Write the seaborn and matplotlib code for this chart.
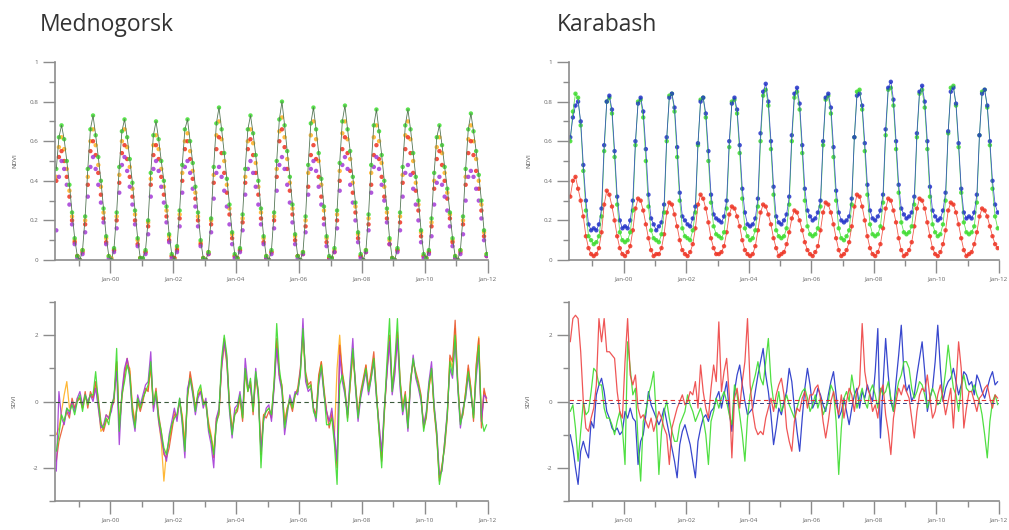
import numpy as np
import pandas as pd
import matplotlib
matplotlib.use("Agg")
import matplotlib.pyplot as plt
import seaborn as sns
from matplotlib.ticker import FixedLocator

sns.set_style("ticks")
plt.rcParams['font.family'] = ['Open Sans', 'DejaVu Sans']

# ---------------- time axis: monthly, Apr 1998 .. Dec 2011 ----------------
months = pd.date_range("1998-04-01", "2011-12-01", freq="MS")
t = np.asarray(months.year + (months.month - 1) / 12 + 1 / 24, dtype=float)

xtick_years = [2000, 2002, 2004, 2006, 2008, 2010, 2012]
xtick_labels = ["Jan-00", "Jan-02", "Jan-04", "Jan-06", "Jan-08", "Jan-10", "Jan-12"]
xminor_years = [1999, 2001, 2003, 2005, 2007, 2009, 2011]

# ---------------- Mednogorsk NDVI ----------------
med_green = [
    0.46, 0.62, 0.68, 0.61, 0.50, 0.38, 0.24, 0.11, 0.02,
    0.00, 0.05, 0.22, 0.46, 0.66, 0.73, 0.63, 0.52, 0.40, 0.26, 0.12, 0.02,
    0.00, 0.06, 0.24, 0.47, 0.65, 0.71, 0.62, 0.51, 0.39, 0.25, 0.11, 0.01,
    0.01, 0.05, 0.20, 0.44, 0.63, 0.70, 0.61, 0.50, 0.40, 0.27, 0.13, 0.03,
    0.00, 0.07, 0.25, 0.48, 0.66, 0.71, 0.60, 0.49, 0.37, 0.24, 0.10, 0.01,
    0.00, 0.04, 0.21, 0.47, 0.69, 0.77, 0.66, 0.54, 0.41, 0.28, 0.14, 0.03,
    0.01, 0.06, 0.23, 0.46, 0.66, 0.73, 0.64, 0.53, 0.40, 0.26, 0.12, 0.02,
    0.00, 0.05, 0.24, 0.50, 0.71, 0.80, 0.68, 0.55, 0.42, 0.28, 0.13, 0.02,
    0.00, 0.04, 0.22, 0.48, 0.69, 0.77, 0.66, 0.54, 0.41, 0.27, 0.12, 0.02,
    0.01, 0.06, 0.25, 0.49, 0.70, 0.78, 0.66, 0.55, 0.42, 0.29, 0.14, 0.03,
    0.00, 0.05, 0.23, 0.48, 0.68, 0.76, 0.65, 0.53, 0.40, 0.26, 0.11, 0.01,
    0.00, 0.06, 0.24, 0.47, 0.68, 0.76, 0.66, 0.54, 0.42, 0.30, 0.15, 0.03,
    0.01, 0.05, 0.21, 0.44, 0.62, 0.68, 0.58, 0.47, 0.36, 0.24, 0.11, 0.02,
    0.00, 0.05, 0.22, 0.46, 0.66, 0.74, 0.65, 0.55, 0.43, 0.30, 0.15, 0.03,
]
med_orange = [
    0.42, 0.57, 0.62, 0.56, 0.46, 0.35, 0.22, 0.10, 0.02,
    0.00, 0.05, 0.20, 0.42, 0.60, 0.66, 0.58, 0.48, 0.37, 0.24, 0.11, 0.02,
    0.01, 0.05, 0.22, 0.43, 0.60, 0.66, 0.57, 0.47, 0.36, 0.23, 0.10, 0.01,
    0.00, 0.04, 0.19, 0.41, 0.58, 0.63, 0.56, 0.46, 0.37, 0.25, 0.12, 0.02,
    0.01, 0.06, 0.23, 0.44, 0.60, 0.64, 0.55, 0.45, 0.34, 0.22, 0.09, 0.01,
    0.00, 0.04, 0.20, 0.43, 0.63, 0.70, 0.61, 0.50, 0.38, 0.26, 0.13, 0.02,
    0.01, 0.05, 0.21, 0.42, 0.60, 0.66, 0.59, 0.49, 0.37, 0.24, 0.11, 0.02,
    0.00, 0.04, 0.22, 0.46, 0.65, 0.72, 0.62, 0.51, 0.39, 0.26, 0.12, 0.02,
    0.00, 0.04, 0.20, 0.44, 0.63, 0.70, 0.61, 0.50, 0.38, 0.25, 0.11, 0.01,
    0.01, 0.05, 0.23, 0.45, 0.64, 0.70, 0.61, 0.51, 0.39, 0.27, 0.13, 0.02,
    0.00, 0.05, 0.21, 0.44, 0.62, 0.68, 0.60, 0.49, 0.37, 0.24, 0.10, 0.01,
    0.00, 0.05, 0.22, 0.43, 0.63, 0.70, 0.61, 0.50, 0.39, 0.28, 0.14, 0.02,
    0.01, 0.04, 0.19, 0.40, 0.57, 0.62, 0.54, 0.44, 0.34, 0.23, 0.10, 0.02,
    0.00, 0.05, 0.20, 0.42, 0.61, 0.68, 0.60, 0.51, 0.40, 0.28, 0.14, 0.03,
]
med_red = [
    0.40, 0.52, 0.55, 0.50, 0.42, 0.32, 0.20, 0.09, 0.02,
    0.00, 0.04, 0.18, 0.38, 0.55, 0.60, 0.53, 0.44, 0.33, 0.21, 0.09, -0.02,
    0.00, 0.05, 0.20, 0.39, 0.54, 0.58, 0.51, 0.42, 0.32, 0.20, 0.08, 0.01,
    0.00, 0.04, 0.17, 0.38, 0.53, 0.58, 0.51, 0.42, 0.33, 0.22, 0.10, 0.02,
    0.01, 0.05, 0.21, 0.40, 0.56, 0.60, 0.51, 0.41, 0.31, 0.20, 0.08, 0.01,
    0.00, 0.03, 0.18, 0.39, 0.56, 0.62, 0.54, 0.44, 0.34, 0.23, 0.11, 0.02,
    0.01, 0.05, 0.19, 0.39, 0.56, 0.61, 0.53, 0.44, 0.33, 0.21, 0.09, 0.01,
    0.00, 0.04, 0.20, 0.42, 0.60, 0.66, 0.57, 0.46, 0.35, 0.23, 0.10, 0.02,
    0.00, 0.03, 0.17, 0.37, 0.53, 0.58, 0.51, 0.42, 0.32, 0.21, 0.09, 0.01,
    0.01, 0.04, 0.20, 0.40, 0.56, 0.62, 0.54, 0.45, 0.34, 0.24, 0.11, 0.02,
    0.00, 0.04, 0.18, 0.38, 0.53, 0.58, 0.51, 0.42, 0.32, 0.21, 0.08, 0.01,
    0.00, 0.05, 0.19, 0.39, 0.56, 0.62, 0.54, 0.44, 0.35, 0.25, 0.12, 0.02,
    0.01, 0.04, 0.17, 0.36, 0.51, 0.55, 0.48, 0.40, 0.31, 0.21, 0.09, 0.01,
    0.00, 0.04, 0.18, 0.38, 0.54, 0.60, 0.53, 0.45, 0.36, 0.25, 0.12, 0.02,
]
med_purple = [
    0.15, 0.42, 0.50, 0.46, 0.38, 0.28, 0.18, 0.08, 0.01,
    0.00, 0.03, 0.14, 0.32, 0.47, 0.52, 0.46, 0.38, 0.29, 0.19, 0.08, 0.01,
    0.00, 0.04, 0.16, 0.34, 0.48, 0.52, 0.45, 0.37, 0.28, 0.18, 0.07, 0.00,
    0.00, 0.03, 0.13, 0.32, 0.46, 0.50, 0.45, 0.37, 0.29, 0.19, 0.09, 0.01,
    0.00, 0.04, 0.17, 0.34, 0.47, 0.50, 0.44, 0.36, 0.27, 0.17, 0.07, 0.00,
    0.00, 0.03, 0.14, 0.31, 0.44, 0.47, 0.42, 0.35, 0.27, 0.18, 0.08, 0.01,
    0.00, 0.04, 0.15, 0.33, 0.46, 0.50, 0.44, 0.37, 0.28, 0.18, 0.08, 0.01,
    0.00, 0.03, 0.16, 0.35, 0.48, 0.52, 0.46, 0.38, 0.29, 0.19, 0.08, 0.01,
    0.00, 0.03, 0.14, 0.33, 0.46, 0.50, 0.45, 0.37, 0.28, 0.18, 0.07, 0.00,
    0.00, 0.04, 0.16, 0.35, 0.48, 0.52, 0.46, 0.38, 0.29, 0.20, 0.09, 0.01,
    0.00, 0.04, 0.15, 0.34, 0.47, 0.52, 0.46, 0.38, 0.30, 0.19, 0.08, 0.00,
    0.00, 0.04, 0.15, 0.32, 0.44, 0.48, 0.43, 0.36, 0.28, 0.20, 0.09, 0.01,
    0.00, 0.03, 0.12, 0.28, 0.39, 0.42, 0.38, 0.32, 0.25, 0.17, 0.07, 0.01,
    0.00, 0.03, 0.13, 0.30, 0.42, 0.45, 0.42, 0.36, 0.30, 0.21, 0.10, 0.02,
]

# ---------------- Karabash NDVI ----------------
kar_blue = [
    0.62, 0.72, 0.78, 0.80, 0.70, 0.48, 0.30, 0.18, 0.15,
    0.16, 0.15, 0.18, 0.26, 0.58, 0.80, 0.83, 0.76, 0.55, 0.32, 0.20, 0.16,
    0.17, 0.16, 0.20, 0.30, 0.60, 0.79, 0.82, 0.75, 0.56, 0.33, 0.21, 0.18,
    0.15, 0.17, 0.19, 0.28, 0.62, 0.82, 0.84, 0.77, 0.57, 0.34, 0.22, 0.20,
    0.18, 0.17, 0.21, 0.27, 0.59, 0.80, 0.82, 0.74, 0.55, 0.33, 0.23, 0.21,
    0.20, 0.19, 0.22, 0.30, 0.60, 0.79, 0.82, 0.76, 0.58, 0.36, 0.24, 0.18,
    0.17, 0.18, 0.21, 0.31, 0.64, 0.85, 0.89, 0.80, 0.60, 0.37, 0.22, 0.19,
    0.18, 0.20, 0.23, 0.32, 0.63, 0.84, 0.87, 0.79, 0.58, 0.36, 0.25, 0.22,
    0.20, 0.21, 0.24, 0.30, 0.60, 0.82, 0.84, 0.77, 0.57, 0.35, 0.24, 0.20,
    0.19, 0.20, 0.22, 0.31, 0.62, 0.83, 0.84, 0.78, 0.59, 0.38, 0.25, 0.21,
    0.20, 0.22, 0.25, 0.33, 0.66, 0.87, 0.90, 0.81, 0.60, 0.38, 0.26, 0.23,
    0.21, 0.22, 0.24, 0.32, 0.64, 0.85, 0.88, 0.80, 0.60, 0.37, 0.25, 0.22,
    0.20, 0.21, 0.25, 0.34, 0.65, 0.85, 0.87, 0.79, 0.59, 0.36, 0.24, 0.21,
    0.22, 0.21, 0.24, 0.33, 0.63, 0.84, 0.86, 0.78, 0.60, 0.40, 0.28, 0.24,
]
kar_green = [
    0.60, 0.75, 0.84, 0.82, 0.68, 0.45, 0.25, 0.12, 0.10,
    0.08, 0.09, 0.12, 0.22, 0.55, 0.80, 0.82, 0.74, 0.52, 0.28, 0.14, 0.10,
    0.09, 0.10, 0.14, 0.25, 0.58, 0.80, 0.81, 0.72, 0.50, 0.27, 0.15, 0.11,
    0.10, 0.09, 0.13, 0.24, 0.60, 0.83, 0.84, 0.75, 0.52, 0.30, 0.16, 0.12,
    0.11, 0.10, 0.15, 0.24, 0.58, 0.81, 0.82, 0.72, 0.50, 0.29, 0.17, 0.13,
    0.12, 0.11, 0.14, 0.26, 0.57, 0.80, 0.81, 0.74, 0.54, 0.31, 0.16, 0.12,
    0.10, 0.11, 0.15, 0.27, 0.60, 0.83, 0.86, 0.78, 0.56, 0.33, 0.15, 0.12,
    0.11, 0.12, 0.16, 0.28, 0.60, 0.82, 0.85, 0.76, 0.54, 0.30, 0.17, 0.13,
    0.12, 0.13, 0.16, 0.27, 0.58, 0.81, 0.83, 0.74, 0.52, 0.30, 0.16, 0.11,
    0.10, 0.12, 0.15, 0.28, 0.62, 0.85, 0.86, 0.76, 0.55, 0.33, 0.18, 0.13,
    0.12, 0.13, 0.17, 0.29, 0.63, 0.86, 0.87, 0.78, 0.56, 0.34, 0.19, 0.14,
    0.13, 0.14, 0.17, 0.28, 0.62, 0.84, 0.86, 0.77, 0.56, 0.32, 0.18, 0.14,
    0.12, 0.13, 0.18, 0.30, 0.64, 0.87, 0.88, 0.78, 0.57, 0.34, 0.19, 0.14,
    0.13, 0.14, 0.17, 0.29, 0.63, 0.85, 0.86, 0.77, 0.58, 0.36, 0.22, 0.16,
]
kar_red = [
    0.32, 0.40, 0.42, 0.36, 0.30, 0.22, 0.12, 0.06, 0.03,
    0.02, 0.03, 0.06, 0.14, 0.28, 0.35, 0.33, 0.27, 0.20, 0.12, 0.06, 0.03,
    0.02, 0.04, 0.07, 0.15, 0.26, 0.31, 0.30, 0.25, 0.18, 0.11, 0.05, 0.02,
    0.03, 0.03, 0.06, 0.13, 0.24, 0.29, 0.28, 0.23, 0.17, 0.10, 0.05, 0.03,
    0.02, 0.04, 0.08, 0.16, 0.28, 0.33, 0.31, 0.26, 0.19, 0.11, 0.06, 0.03,
    0.03, 0.04, 0.07, 0.14, 0.23, 0.27, 0.26, 0.22, 0.17, 0.10, 0.05, 0.03,
    0.02, 0.03, 0.07, 0.15, 0.24, 0.28, 0.27, 0.23, 0.18, 0.11, 0.06, 0.02,
    0.03, 0.04, 0.08, 0.14, 0.21, 0.25, 0.24, 0.20, 0.15, 0.09, 0.05, 0.03,
    0.02, 0.04, 0.07, 0.15, 0.24, 0.29, 0.28, 0.24, 0.18, 0.11, 0.05, 0.02,
    0.03, 0.05, 0.09, 0.17, 0.27, 0.33, 0.32, 0.27, 0.20, 0.12, 0.06, 0.03,
    0.02, 0.04, 0.08, 0.16, 0.26, 0.31, 0.30, 0.25, 0.19, 0.11, 0.05, 0.02,
    0.03, 0.05, 0.09, 0.17, 0.26, 0.31, 0.30, 0.26, 0.19, 0.12, 0.06, 0.03,
    0.02, 0.04, 0.08, 0.15, 0.25, 0.29, 0.28, 0.24, 0.18, 0.11, 0.05, 0.02,
    0.03, 0.04, 0.08, 0.14, 0.22, 0.26, 0.25, 0.22, 0.17, 0.12, 0.08, 0.06,
]

# ---------------- Mednogorsk standardized anomalies ----------------
med_purple_sd = [
    -2.1, 0.3, -0.5, -0.7, -0.2, -0.4, 0.0, -0.3, 0.1,
    0.3, -0.1, 0.2, 0.0, 0.2, 0.0, 0.4, -0.2, -0.8, -0.7, -0.4, -0.5,
    -0.3, 0.2, 0.9, -1.3, 0.3, 1.0, 1.3, 0.7, -0.4, -0.9, 0.2, -0.1,
    0.2, 0.5, 0.6, 1.5, -0.3, 0.2, -0.6, -1.1, -1.5, -1.8, -1.0, -0.6,
    -0.2, -0.6, 0.1, -0.7, -1.7, 0.4, 0.7, 0.2, -0.4, 0.1, 0.3, -0.2,
    0.1, -0.9, -1.3, -2.0, -0.5, -0.2, 1.0, 1.8, 1.2, -0.3, -1.1, -0.2,
    -0.1, 0.3, -0.4, 1.3, 0.5, 0.4, -0.2, 1.0, 0.1, -1.5, -0.6, -0.2,
    -0.1, -0.6, 0.4, 1.6, 0.7, 0.3, -1.0, -0.4, 0.2, -0.1, 0.3, 0.2,
    0.9, 2.5, 0.6, 0.3, 0.4, -0.2, -0.6, 0.5, 1.0, 0.2, -0.3, -0.6,
    -0.2, -1.0, -1.8, 1.4, 0.6, 0.2, -0.4, 0.8, 1.9, 0.4, -0.6, 0.1,
    0.5, 0.9, 0.2, 0.7, 1.2, 0.1, -0.7, -1.5, -0.2, 0.8, 1.8, 0.2,
    0.8, 1.9, 0.4, -0.4, 0.1, -0.9, 0.5, 1.4, 0.7, 0.4, 0.0, -0.7,
    -0.3, 0.6, 1.2, -0.1, -0.9, -2.2, -2.1, -1.2, -0.3, 1.0, 0.7, 1.8,
    0.4, -0.8, -0.2, 0.1, 0.8, 0.2, -0.4, 0.7, 1.5, -0.6, 0.2, 0.1,
]
med_red_sd = [
    -1.8, -1.2, -0.9, -0.6, -0.3, -0.5, 0.1, -0.2, 0.0,
    0.1, -0.2, 0.3, -0.2, 0.3, 0.1, 0.6, 0.1, -0.6, -0.9, -0.6, -0.5,
    -0.2, 0.0, 1.2, -0.8, 0.1, 0.8, 1.3, 0.9, -0.2, -0.7, 0.0, -0.3,
    0.0, 0.4, 0.3, 1.1, -0.1, 0.4, -0.4, -0.9, -1.6, -1.7, -1.4, -0.9,
    -0.4, -0.4, 0.0, -0.5, -1.4, 0.1, 0.9, 0.4, -0.2, 0.2, 0.3, 0.0,
    -0.1, -0.7, -1.1, -1.7, -0.6, -0.4, 1.1, 1.9, 1.3, -0.1, -0.9, -0.4,
    -0.3, 0.1, -0.6, 0.9, 0.3, 0.6, -0.4, 0.8, 0.3, -1.6, -0.4, -0.5,
    -0.3, -0.5, 0.5, 1.9, 0.8, 0.5, -0.7, -0.2, 0.0, -0.3, 0.2, 0.4,
    1.0, 2.1, 0.9, 0.5, 0.6, -0.2, -0.4, 0.8, 1.2, 0.4, -0.3, -0.8,
    -0.4, -1.1, -2.0, 1.7, 0.9, 0.4, -0.5, 0.5, 1.5, 0.6, -0.4, 0.3,
    0.7, 1.1, 0.4, 0.9, 1.5, 0.3, -0.9, -1.8, -0.4, 0.9, 2.0, 0.4,
    1.1, 2.1, 0.7, -0.2, 0.3, -0.8, 0.7, 1.2, 0.9, 0.6, 0.2, -0.8,
    -0.5, 0.4, 1.0, -0.3, -1.1, -2.4, -1.9, -1.4, -0.5, 1.4, 1.2, 2.45,
    0.6, -0.6, -0.4, 0.3, 1.1, 0.4, -0.6, 1.1, 1.9, -0.8, 0.4, 0.0,
]
med_green_sd = [
    -1.5, -1.0, -0.4, -0.6, -0.2, -0.3, -0.1, -0.4, 0.0,
    0.2, -0.3, 0.2, -0.1, 0.2, 0.2, 0.9, 0.0, -0.7, -0.8, -0.5, -0.7,
    -0.1, 0.1, 1.6, -0.9, 0.2, 0.6, 1.1, 0.8, -0.3, -0.8, 0.1, -0.2,
    0.1, 0.3, 0.5, 1.2, -0.1, 0.3, -0.5, -0.9, -1.4, -1.6, -1.1, -0.7,
    -0.5, -0.4, 0.1, -0.6, -1.5, 0.2, 0.7, 0.3, -0.3, 0.3, 0.5, -0.1,
    0.0, -0.8, -1.1, -1.6, -0.7, -0.3, 1.3, 2.0, 1.4, -0.2, -1.0, -0.4,
    -0.2, 0.2, -0.5, 1.0, 0.3, 0.7, -0.3, 0.9, 0.3, -2.0, -0.5, -0.3,
    -0.2, -0.4, 0.6, 2.35, 1.0, 0.4, -0.8, -0.3, 0.1, -0.2, 0.2, 0.3,
    0.8, 2.2, 0.8, 0.4, 0.5, -0.3, -0.5, 0.6, 1.1, 0.3, -0.7, -0.7,
    -0.5, -1.3, -2.5, 0.5, 0.8, 0.3, -0.6, 0.6, 1.6, 0.5, -0.5, 0.2,
    0.6, 1.0, 0.3, 0.7, 1.3, 0.2, -0.9, -2.0, -0.3, 1.2, 2.5, 0.3,
    1.2, 2.5, 0.6, -0.3, 0.2, -0.8, 0.6, 1.3, 0.8, 0.5, 0.1, -0.9,
    -0.4, 0.5, 1.0, -0.2, -1.0, -2.5, -2.0, -1.3, -0.4, 1.2, 0.8, 2.0,
    0.5, -0.7, -0.3, 0.2, 0.9, 0.3, -0.5, 0.9, 1.7, -0.5, -0.9, -0.7,
]
med_orange_sd = [
    -1.0, -0.8, -0.3, 0.2, 0.6, -0.2, 0.0, -0.2, 0.1,
    0.1, -0.2, 0.1, 0.0, 0.2, 0.1, 0.5, -0.1, -0.9, -0.8, -0.4, -0.5,
    -0.1, 0.1, 1.2, -0.7, 0.2, 0.9, 1.1, 1.0, -0.1, -0.6, 0.1, -0.2,
    0.1, 0.3, 0.4, 1.0, -0.2, 0.3, -0.6, -1.2, -2.4, -1.5, -1.2, -0.8,
    -0.3, -0.5, 0.0, -0.4, -1.2, 0.2, 0.8, 0.3, -0.2, 0.2, 0.4, 0.0,
    0.0, -0.6, -1.0, -1.5, -0.5, -0.3, 1.0, 1.7, 1.1, -0.1, -0.8, -0.3,
    -0.2, 0.1, -0.5, 1.0, 0.4, 0.5, -0.3, 0.7, 0.2, -1.4, -0.4, -0.3,
    -0.2, -0.4, 0.5, 1.8, 0.8, 0.4, -0.6, -0.2, 0.1, -0.2, 0.2, 0.3,
    0.9, 2.0, 0.7, 0.4, 0.5, -0.2, -0.4, 0.7, 1.2, 0.3, -0.3, -0.6,
    -0.3, -1.0, 1.0, 2.0, 0.8, 0.3, -0.4, 0.5, 1.4, 0.5, -0.4, 0.2,
    0.6, 1.1, 0.3, 0.8, 1.3, 0.2, -0.7, -1.7, -0.3, 0.9, 1.9, 0.3,
    0.9, 2.0, 0.6, -0.2, 0.2, -0.7, 0.6, 1.2, 0.8, 0.5, 0.1, -0.7,
    -0.4, 0.4, 0.9, -0.2, -1.0, -2.3, -2.0, -1.2, -0.4, 1.3, 1.0, 2.2,
    0.5, -0.6, -0.3, 0.3, 1.0, 0.4, -0.5, 1.0, 1.95, -0.6, 0.3, 0.1,
]

# ---------------- Karabash standardized anomalies ----------------
kar_red_sd = [
    1.8, 2.5, 2.6, 2.5, 1.5, 0.0, -0.8, -0.9, -0.5,
    -0.2, 0.5, 2.5, 1.8, 2.5, 1.5, 1.5, 1.4, 1.3, 0.3, -0.3, -0.5,
    1.2, 2.5, 0.8, 0.5, 0.8, -0.2, -0.5, -0.4, -0.6, -0.8, -0.5, -0.9,
    -0.6, -0.3, -0.5, -0.8, -1.0, -1.9, -0.8, -0.5, -0.2, 0.0, 0.2, -0.1,
    0.0, 0.3, 0.2, 0.6, -0.2, 1.1, 0.3, -0.2, -0.5, 0.4, 1.1, 0.6,
    2.4, 0.3, 0.9, 1.3, 0.2, -1.7, 0.1, 0.4, -0.2, 0.6, 1.2, 2.5,
    0.5, -0.3, -0.8, -1.0, -0.9, -1.0, -0.5, -0.2, 0.1, -0.3, 0.2, 0.5,
    0.7, 0.2, -0.8, -1.2, -1.5, -0.6, -0.2, -0.3, 0.1, 0.3, -0.2, 0.2,
    0.2, 0.4, 0.5, 0.1, -0.6, -1.1, -0.6, 0.0, 0.3, -0.1, -0.4, 0.2,
    -0.5, 0.0, 0.4, 0.2, -0.3, 0.3, 0.5, 2.35, 0.9, 0.4, 0.2, -0.3,
    -0.1, -0.5, 0.3, 0.5, -0.4, -0.9, -1.6, -0.5, 0.0, 0.4, 0.2, 0.5,
    0.3, 0.1, -0.5, -1.1, -0.3, 0.2, 0.4, 0.3, 0.8, 0.1, -0.5, -0.3,
    0.2, 0.5, 0.1, -0.4, 0.0, 0.4, -0.8, 0.5, 1.8, 1.0, -0.8, -0.2,
    0.3, 0.3, 0.0, -0.3, 0.1, 0.2, 0.4, 0.5, 0.1, -0.2, 0.2, 0.1,
]
kar_green_sd = [
    -0.3, -0.1, -0.8, -1.8, -0.9, 0.0, -0.4, -0.3, 0.3,
    1.0, 0.9, 0.5, 0.5, -0.2, -0.5, -0.5, -0.7, -1.0, -0.6, -0.3, -0.8,
    -1.9, 1.8, 1.0, 0.2, 0.4, -1.2, -2.4, -0.6, -0.3, 0.2, 0.5, 0.9,
    -0.5, -2.2, -0.9, -0.3, 0.0, -0.5, -0.9, -1.2, -1.2, -0.7, -0.5, -0.3,
    0.2, -0.1, -0.3, -0.6, -0.4, -0.2, -0.5, -1.0, -1.9, -0.6, -0.3, 0.1,
    -0.2, 0.1, 0.3, 0.0, -0.4, -0.7, 0.5, 0.2, -0.4, -1.0, -1.8, -0.5,
    0.2, 0.5, 0.8, 1.2, 0.7, 0.5, 1.2, 1.9, 0.6, 0.0, -0.2, 0.3,
    -0.3, -0.1, 0.2, -0.1, -0.3, -0.5, -0.2, 0.1, 0.3, 0.4, 0.1, -0.3,
    -0.1, 0.2, -0.2, 0.1, -0.4, -0.2, 0.0, 0.5, 0.3, -0.6, -2.2, -0.8,
    0.1, 0.3, 0.0, 0.8, 0.3, -0.2, 0.1, 0.4, 0.0, -0.2, 0.3, 0.5,
    0.2, -0.2, 0.4, 0.2, 0.3, 0.6, 0.1, -0.3, 0.2, 0.6, 0.8, 1.2,
    1.2, 1.0, 0.4, 0.1, 0.3, 0.6, 0.5, 0.2, -0.2, 0.1, 0.4, 0.2,
    -0.1, 0.0, 0.3, 0.9, 1.7, 1.0, 0.4, 0.2, -0.3, 0.4, 0.8, 0.4,
    0.3, 0.3, 0.5, 0.2, 0.0, -0.4, -1.0, -1.7, -0.6, 0.0, 0.2, -0.1,
]
kar_blue_sd = [
    -1.0, -1.4, -2.0, -2.5, -1.5, -1.2, -1.5, -1.7, -0.6,
    -0.8, 0.2, 0.5, 0.7, 0.3, -0.3, -0.5, -0.8, -0.9, -0.8, -1.0, -0.9,
    -0.3, -0.5, -0.2, -0.5, -0.6, -1.9, -1.2, -1.0, -0.4, 0.3, -0.1, -0.3,
    -0.5, -0.7, -0.5, -0.2, -0.6, -1.0, -1.4, -1.8, -2.3, -1.3, -0.9, -0.7,
    -1.0, -1.3, -1.8, -2.3, -1.2, -0.8, -0.5, -0.4, -0.6, -0.3, -0.2, 0.1,
    0.3, -0.2, 0.2, 0.6, -0.3, -0.9, 0.3, 0.8, 1.1, 0.5, 0.0, -0.4,
    -0.3, -0.2, 0.3, 0.8, 1.2, 1.6, 0.8, 0.3, -0.4, -1.3, -0.8, -0.2,
    -0.4, 0.0, 0.3, 1.0, 0.6, -0.2, -0.9, -1.5, -0.5, 0.4, 1.0, 0.5,
    -0.2, 0.0, 0.4, 0.2, -0.1, -0.3, 0.2, 0.6, 0.9, 0.2, -0.5, -0.3,
    0.1, -0.3, -0.7, -0.2, 0.2, 0.4, -0.2, 0.3, 0.1, 0.5, 0.2, 0.0,
    0.9, 2.2, -1.1, 0.5, 1.9, 0.8, 0.0, -0.3, 0.6, 1.4, 2.3, 0.9,
    0.3, 0.5, 0.0, 0.2, 0.8, 1.3, 1.8, 0.9, -0.3, 0.1, 0.4, 1.2,
    2.3, 1.0, 0.0, 0.4, 0.6, 0.7, 1.0, 0.6, 0.2, 0.5, 0.9, 0.8,
    0.5, 0.6, 0.2, 0.8, 0.6, 0.3, 0.1, 0.4, 0.7, 0.9, 0.5, 0.6,
]

# reference lines (dashed) in the anomaly panels
med_ref_level = 0.0
kar_ref_levels = [0.05, -0.05]

# ---------------- colours ----------------
C_GREEN = "#3ddc2e"
C_ORANGE = "#ffb020"
C_RED = "#ee3322"
C_PURPLE = "#a43ad6"
C_BLUE = "#2233c8"
C_LINE_G = "#557755"
AX_COL = "#8c8c8c"


def long_df(series):
    frames = []
    for name, vals in series.items():
        n = min(len(vals), len(t))
        frames.append(pd.DataFrame({"t": t[:n], "v": np.asarray(vals[:n], float), "s": name}))
    return pd.concat(frames, ignore_index=True)


def style_axis(ax, ylim, ymajor, ylabels, yminor, ylabel):
    ax.set_xlim(1998.25, 2012.0)
    ax.set_ylim(*ylim)
    for sp in ("top", "right"):
        ax.spines[sp].set_visible(False)
    for sp in ("left", "bottom"):
        ax.spines[sp].set_color(AX_COL)
        ax.spines[sp].set_linewidth(1.2)
    ax.xaxis.set_major_locator(FixedLocator(xtick_years))
    ax.set_xticklabels(xtick_labels)
    ax.xaxis.set_minor_locator(FixedLocator(xminor_years))
    ax.yaxis.set_major_locator(FixedLocator(ymajor))
    ax.set_yticklabels(ylabels)
    ax.yaxis.set_minor_locator(FixedLocator(yminor))
    ax.tick_params(which="major", direction="out", length=9, width=1.0,
                   color=AX_COL, labelsize=4.5, labelcolor="#666666", pad=3)
    ax.tick_params(which="minor", direction="out", length=4.5, width=1.0, color=AX_COL)
    ax.set_xlabel("")
    ax.set_ylabel(ylabel, fontsize=4.5, color="#555555")
    ax.yaxis.set_label_coords(-0.088, 0.5)
    ax.set_facecolor("white")


fig = plt.figure(figsize=(10.09, 5.30), dpi=100)
fig.patch.set_facecolor("white")

ax_tl = fig.add_axes([0.0545, 0.5094, 0.4291, 0.3736])
ax_bl = fig.add_axes([0.0545, 0.0547, 0.4291, 0.3755])
ax_tr = fig.add_axes([0.5639, 0.5094, 0.4262, 0.3736])
ax_br = fig.add_axes([0.5639, 0.0547, 0.4262, 0.3755])

ndvi_major = [0, 0.2, 0.4, 0.6, 0.8, 1.0]
ndvi_labels = ["0", "0.2", "0.4", "0.6", "0.8", "1"]
ndvi_minor = [0.1, 0.3, 0.5, 0.7, 0.9]
sd_major = [-2, 0, 2]
sd_labels = ["-2", "0", "2"]
sd_minor = [-3, -1, 1, 3]

# ---- top-left: Mednogorsk NDVI ----
df = long_df({"orange": med_orange, "red": med_red, "purple": med_purple, "green": med_green})
pal = {"orange": C_ORANGE, "red": C_RED, "purple": C_PURPLE, "green": C_GREEN}
sns.lineplot(data=df[df.s == "green"], x="t", y="v", color=C_LINE_G, estimator=None,
             lw=0.6, legend=False, ax=ax_tl)
sns.scatterplot(data=df, x="t", y="v", hue="s", palette=pal, s=10, linewidth=0,
                alpha=0.85, legend=False, ax=ax_tl)
style_axis(ax_tl, (0, 1.0), ndvi_major, ndvi_labels, ndvi_minor, "NDVI")

# ---- top-right: Karabash NDVI ----
df = long_df({"red": kar_red, "green": kar_green, "blue": kar_blue})
pal = {"red": C_RED, "green": C_GREEN, "blue": C_BLUE}
sns.lineplot(data=df, x="t", y="v", hue="s", palette=pal, estimator=None,
             lw=0.6, alpha=0.8, legend=False, ax=ax_tr)
sns.scatterplot(data=df, x="t", y="v", hue="s", palette=pal, s=10, linewidth=0,
                alpha=0.85, legend=False, ax=ax_tr)
style_axis(ax_tr, (0, 1.0), ndvi_major, ndvi_labels, ndvi_minor, "NDVI")

# ---- bottom-left: Mednogorsk anomalies ----
df = long_df({"orange": med_orange_sd, "red": med_red_sd, "purple": med_purple_sd, "green": med_green_sd})
pal = {"orange": C_ORANGE, "red": "#e8582e", "purple": C_PURPLE, "green": C_GREEN}
sns.lineplot(data=df, x="t", y="v", hue="s", palette=pal, estimator=None,
             lw=0.9, alpha=0.9, legend=False, ax=ax_bl)
ax_bl.axhline(med_ref_level, color="#3c5a3c", lw=0.8, ls=(0, (4, 3)))
style_axis(ax_bl, (-3, 3), sd_major, sd_labels, sd_minor, "SDVI")

# ---- bottom-right: Karabash anomalies ----
df = long_df({"blue": kar_blue_sd, "green": kar_green_sd, "red": kar_red_sd})
pal = {"blue": C_BLUE, "green": C_GREEN, "red": "#ee4444"}
sns.lineplot(data=df, x="t", y="v", hue="s", palette=pal, estimator=None,
             lw=0.9, alpha=0.9, legend=False, ax=ax_br)
ax_br.axhline(kar_ref_levels[0], color="#dd3333", lw=0.8, ls=(0, (4, 3)))
ax_br.axhline(kar_ref_levels[1], color="#334488", lw=0.7, ls=(0, (4, 3)))
style_axis(ax_br, (-3, 3), sd_major, sd_labels, sd_minor, "SDVI")

# ---- panel titles ----
fig.text(40 / 1009, 1 - 31 / 530, "Mednogorsk", fontsize=16.5, color="#333333", va="baseline")
fig.text(557 / 1009, 1 - 31 / 530, "Karabash", fontsize=16.5, color="#333333", va="baseline")

fig.savefig("out.png", dpi=100, facecolor="white")
